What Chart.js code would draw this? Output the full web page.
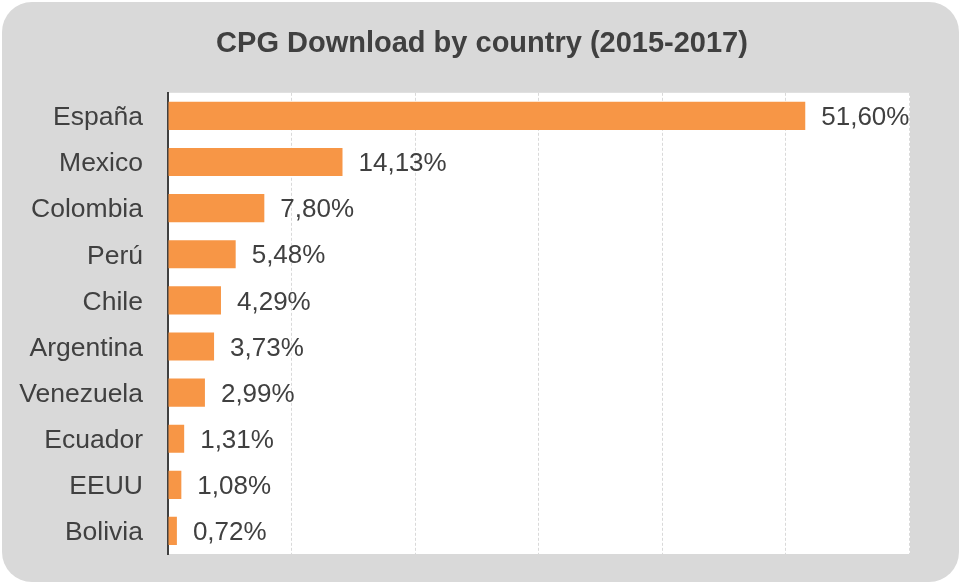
<!DOCTYPE html>
<html>
<head>
<meta charset="utf-8">
<script src="https://cdn.jsdelivr.net/npm/chart.js@4/dist/chart.umd.min.js"></script>
<style>
  html, body { margin: 0; padding: 0; background: #ffffff; }
  #wrap { width: 960px; height: 583px; }
</style>
</head>
<body>
<div id="wrap"><canvas id="c" width="960" height="583"></canvas></div>
<script>
const titleText = 'CPG Download by country (2015-2017)';
const countries = ['España', 'Mexico', 'Colombia', 'Perú', 'Chile', 'Argentina', 'Venezuela', 'Ecuador', 'EEUU', 'Bolivia'];
const downloadShare = [51.60, 14.13, 7.80, 5.48, 4.29, 3.73, 2.99, 1.31, 1.08, 0.72];
const axisMin = 0;
const axisMax = 60;
const axisStep = 10;

const FONT = '"Liberation Sans", Arial, Helvetica, sans-serif';
const TEXT = '#404040';

const backgroundPlugin = {
  id: 'bg',
  beforeDraw(chart) {
    const ctx = chart.ctx;
    const w = chart.width, h = chart.height;
    ctx.save();
    ctx.fillStyle = '#ffffff';
    ctx.fillRect(0, 0, w, h);
    ctx.fillStyle = '#d9d9d9';
    ctx.beginPath();
    if (ctx.roundRect) {
      ctx.roundRect(2, 2, w - 3, h - 3, 30);
    } else {
      ctx.rect(2, 2, w - 3, h - 3);
    }
    ctx.fill();
    const a = chart.chartArea;
    ctx.fillStyle = '#ffffff';
    ctx.fillRect(a.left, a.top, a.right - a.left + 1, a.bottom - a.top);
    ctx.restore();
  },
  afterLayout(chart) {
    const t = chart.titleBlock;
    if (t) { t.left = 4; t.right = 960; }
  }
};

const valueLabels = {
  id: 'valueLabels',
  afterDatasetsDraw(chart) {
    const ctx = chart.ctx;
    const meta = chart.getDatasetMeta(0);
    const data = chart.data.datasets[0].data;
    ctx.save();
    ctx.font = '26px ' + FONT;
    ctx.fillStyle = TEXT;
    ctx.textAlign = 'left';
    ctx.textBaseline = 'middle';
    meta.data.forEach((bar, i) => {
      const txt = data[i].toFixed(2).replace('.', ',') + '%';
      ctx.fillText(txt, bar.x + 16, bar.y + 2);
    });
    ctx.restore();
  }
};

new Chart(document.getElementById('c'), {
  type: 'bar',
  data: {
    labels: countries,
    datasets: [{
      data: downloadShare,
      backgroundColor: '#f79646',
      borderWidth: 0,
      categoryPercentage: 1.0,
      barPercentage: 0.61
    }]
  },
  options: {
    indexAxis: 'y',
    responsive: false,
    animation: false,
    devicePixelRatio: 1,
    layout: { padding: { top: 0, left: 0, right: 51, bottom: 29 } },
    plugins: {
      legend: { display: false },
      tooltip: { enabled: false },
      title: {
        display: true,
        text: titleText,
        color: TEXT,
        font: { family: FONT, size: 29, weight: 'bold', lineHeight: 1.2 },
        padding: { top: 27, bottom: 31 }
      }
    },
    scales: {
      x: {
        min: axisMin,
        max: axisMax,
        ticks: { display: false, stepSize: axisStep },
        grid: { color: '#d9d9d9', lineWidth: 1, drawTicks: false },
        border: { display: false, dash: [3, 2] },
        afterFit(scale) { scale.height = 0; scale.paddingLeft = 0; scale.paddingRight = 0; }
      },
      y: {
        grid: { display: false, drawTicks: false },
        border: { display: true, color: '#404040', width: 2 },
        ticks: {
          color: TEXT,
          padding: 25,
          labelOffset: 2,
          font: { family: FONT, size: 26.5 }
        },
        afterFit(scale) { scale.width = 168; scale.paddingTop = 0; scale.paddingBottom = 0; }
      }
    }
  },
  plugins: [backgroundPlugin, valueLabels]
});
</script>
</body>
</html>
